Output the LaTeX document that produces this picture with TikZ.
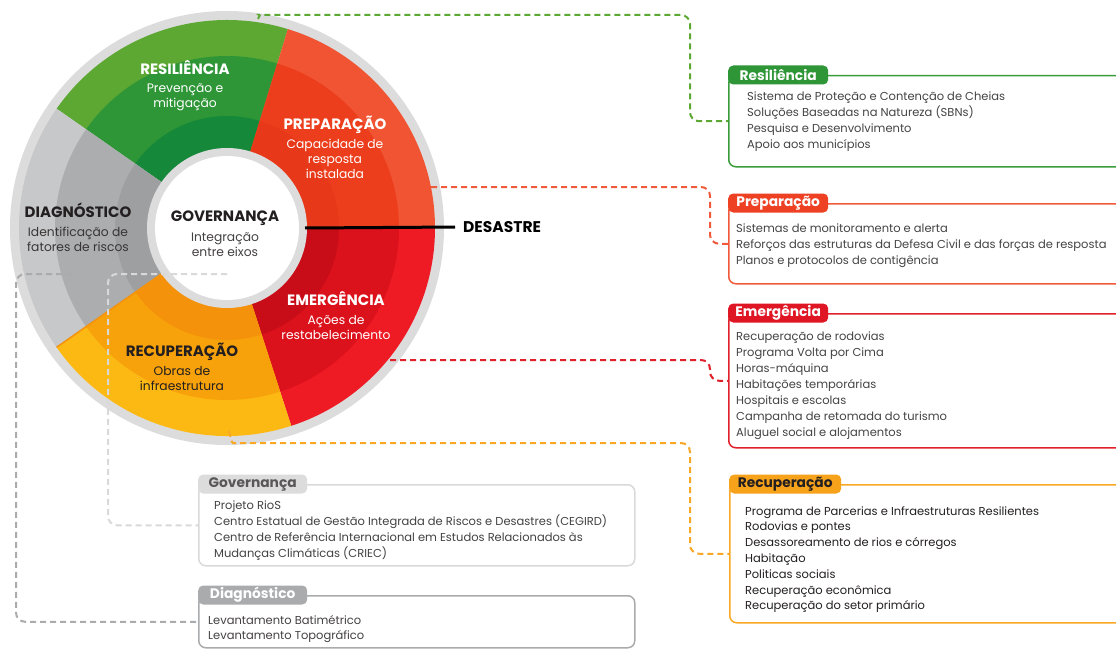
\documentclass[tikz,border=0pt]{standalone}
\usepackage{fontspec}
\setmainfont{Poppins}
\usetikzlibrary{calc}
\definecolor{gOut}{HTML}{5CA832}
\definecolor{gMid}{HTML}{2E9637}
\definecolor{gIn}{HTML}{15883A}
\definecolor{pOut}{HTML}{F05432}
\definecolor{pMid}{HTML}{EC3E1C}
\definecolor{pIn}{HTML}{E8381A}
\definecolor{eOut}{HTML}{EE1B24}
\definecolor{eMid}{HTML}{DB111B}
\definecolor{eIn}{HTML}{C80C18}
\definecolor{rOut}{HTML}{FDB913}
\definecolor{rMid}{HTML}{F8A20B}
\definecolor{rIn}{HTML}{F5920C}
\definecolor{dOut}{HTML}{C7C8C9}
\definecolor{dMid}{HTML}{ABADAF}
\definecolor{dIn}{HTML}{9D9FA1}
\definecolor{ringC}{HTML}{DCDCDC}
\definecolor{resC}{HTML}{3A9C3A}
\definecolor{prepC}{HTML}{F05A3A}
\definecolor{prepT}{HTML}{EE4123}
\definecolor{emeC}{HTML}{E0202A}
\definecolor{emeT}{HTML}{DF1623}
\definecolor{recC}{HTML}{F9A825}
\definecolor{recT}{HTML}{F7A21B}
\definecolor{govC}{HTML}{D9D9D9}
\definecolor{govT}{HTML}{DCDCDC}
\definecolor{diaC}{HTML}{A9ABAD}
\definecolor{itemC}{HTML}{444444}
\definecolor{darkT}{HTML}{231F20}
\begin{document}
\begin{tikzpicture}[x=1pt,y=-1pt,
  wt/.style={font=\bfseries\fontsize{15}{17}\selectfont, anchor=base, inner sep=0pt},
  ws/.style={font=\fontsize{12.3}{15}\selectfont, anchor=base, inner sep=0pt},
  item/.style={font=\fontsize{11.5}{14}\selectfont, anchor=base west, inner sep=0pt, text=itemC},
  boxst/.style={draw, line width=1.5pt, rounded corners=7pt, anchor=north west, inner sep=0pt, minimum width=420pt},
  tab/.style={rounded corners=5pt, anchor=west, inner sep=0pt, minimum height=19pt, font=\bfseries\fontsize{13.8}{15}\selectfont, text=white},
  conn/.style={dashed, dash pattern=on 6pt off 4pt, line width=2pt, rounded corners=9pt}]
\useasboundingbox (0,0) rectangle (1116,650);
\clip (0,0) rectangle (1116,650);
\fill[white] (0,0) rectangle (1116,650);

% ---------- wheel ----------
\begin{scope}[shift={(227,228)}, y=1pt]
  \fill[ringC] (0,0) circle[radius=217];
  \foreach \a/\b/\co/\cm/\ci in {73/145/gOut/gMid/gIn, 0/73/pOut/pMid/pIn, -72/0/eOut/eMid/eIn, 215/288/rOut/rMid/rIn, 145/215/dOut/dMid/dIn}{
    \fill[\co] (0,0) -- (\a:208) arc[start angle=\a, end angle=\b, radius=208] -- cycle;
    \fill[\cm] (0,0) -- (\a:172) arc[start angle=\a, end angle=\b, radius=172] -- cycle;
    \fill[\ci] (0,0) -- (\a:112) arc[start angle=\a, end angle=\b, radius=112] -- cycle;
  }
  \draw[rIn, line width=1.5pt] (215:80) -- (215:208);
  \fill[ringC] (0,0) circle[radius=80];
  \fill[white] (0,0) circle[radius=72];
  \coordinate (dl) at (0:78);
\end{scope}

% wheel labels
\node[wt, text=white] (tRes) at (185,74.5) {RESILIÊNCIA};
\node[ws, text=white] (tRes1) at (185,93) {Prevenção e};
\node[ws, text=white] (tRes2) at (185,108) {mitigação};
\node[wt, text=white] (tPrep) at (335,129.5) {PREPARAÇÃO};
\node[ws, text=white] (tPrep1) at (335,148) {Capacidade de};
\node[ws, text=white] (tPrep2) at (335,163) {resposta};
\node[ws, text=white] (tPrep3) at (335,178) {instalada};
\node[wt, text=darkT] (tDia) at (78,217.5) {DIAGNÓSTICO};
\node[ws, text=darkT!90] (tDia1) at (78,236) {Identificação de};
\node[ws, text=darkT!90] (tDia2) at (78,251) {fatores de riscos};
\node[wt, text=darkT] (tGov) at (225,221.5) {GOVERNANÇA};
\node[ws, text=darkT!85] (tGov1) at (225,241) {Integração};
\node[ws, text=darkT!85] (tGov2) at (225,256) {entre eixos};
\node[wt, text=white] (tEme) at (336,305.5) {EMERGÊNCIA};
\node[ws, text=white] (tEme1) at (336,324) {Ações de};
\node[ws, text=white] (tEme2) at (336,339) {restabelecimento};
\node[wt, text=darkT] (tRec) at (182,356.5) {RECUPERAÇÃO};
\node[ws, text=darkT] (tRec1) at (182,375) {Obras de};
\node[ws, text=darkT] (tRec2) at (182,390) {infraestrutura};

\node[wt, anchor=base west, text=black, font=\bfseries\fontsize{15.5}{17}\selectfont] (des) at (463,232.5) {DESASTRE};
\draw[line width=3pt, black] (dl) -- ([xshift=-8pt]des.west);

% ---------- boxes ----------
\node[boxst, draw=resC, minimum height=91pt] (resbox) at (728,75) {};
\node[boxst, draw=prepC, minimum height=80pt] (prepbox) at (728,203) {};
\node[boxst, draw=emeC, minimum height=134pt] (emebox) at (728,313) {};
\node[boxst, draw=recC, minimum height=138pt] (recbox) at (729,484) {};
\node[boxst, draw=govC, minimum height=81pt, minimum width=436pt] (govbox) at (198,484) {};
\node[boxst, draw=diaC, minimum height=52pt, minimum width=436pt] (diabox) at (198,595) {};

\node[tab, fill=gMid, minimum width=100pt] (resT) at (resbox.north west) {Resiliência};
\node[tab, fill=prepT, minimum width=100pt] (prepT) at (prepbox.north west) {Preparação};
\node[tab, fill=emeT, minimum width=100pt] (emeT) at (emebox.north west) {Emergência};
\node[tab, fill=recT, minimum width=112pt, text=darkT] (recT) at (recbox.north west) {Recuperação};
\node[tab, fill=govT, minimum width=109pt, text=darkT!75] (govT) at (govbox.north west) {Governança};
\node[tab, fill=diaC, minimum width=109pt] (diaT) at (diabox.north west) {Diagnóstico};

% items
\foreach \t [count=\i from 0] in {Sistema de Proteção e Contenção de Cheias, Soluções Baseadas na Natureza (SBNs), Pesquisa e Desenvolvimento, Apoio aos municípios}
  \node[item] (resI\i) at ($(resbox.north west)+(19,{26+16*\i})$) {\t};
\foreach \t [count=\i from 0] in {Sistemas de monitoramento e alerta, Reforços das estruturas da Defesa Civil e das forças de resposta, Planos e protocolos de contigência}
  \node[item] (prepI\i) at ($(prepbox.north west)+(8,{29+16*\i})$) {\t};
\foreach \t [count=\i from 0] in {Recuperação de rodovias, Programa Volta por Cima, Horas-máquina, Habitações temporárias, Hospitais e escolas, Campanha de retomada do turismo, Aluguel social e alojamentos}
  \node[item] (emeI\i) at ($(emebox.north west)+(8,{27.5+16*\i})$) {\t};
\foreach \t [count=\i from 0] in {Programa de Parcerias e Infraestruturas Resilientes, Rodovias e pontes, Desassoreamento de rios e córregos, Habitação, Politicas sociais, Recuperação econômica, Recuperação do setor primário}
  \node[item, text=darkT] (recI\i) at ($(recbox.north west)+(16,{31+15.8*\i})$) {\t};
\foreach \t [count=\i from 0] in {Projeto RioS, Centro Estatual de Gestão Integrada de Riscos e Desastres (CEGIRD), Centro de Referência Internacional em Estudos Relacionados às, Mudanças Climáticas (CRIEC)}
  \node[item, text=darkT!85] (govI\i) at ($(govbox.north west)+(16,{25.5+16*\i})$) {\t};
\foreach \t [count=\i from 0] in {Levantamento Batimétrico, Levantamento Topográfico}
  \node[item, text=darkT!85] (diaI\i) at ($(diabox.north west)+(10,{29+15*\i})$) {\t};

% ---------- connectors ----------
\coordinate (sRes) at (258,19);
\coordinate (sPrep) at (431,187);
\coordinate (sEme) at (390,360);
\coordinate (sRec) at (229,431);
\coordinate (sGov) at (227,274);
\coordinate (sDia) at (72,274);
\draw[conn, gOut] (sRes) .. controls (260,15) .. (268,15) -| ([xshift=-38pt]resbox.west) -- (resbox.west);
\draw[conn, prepC] (sPrep) -| ([xshift=-18pt]prepbox.west) -- (prepbox.west);
\draw[conn, emeC] (sEme) -| ([xshift=-18pt]emebox.west) -- (emebox.west);
\draw[conn, recC] (sRec) .. controls (232,443) .. (242,443) -| ([xshift=-39pt]recbox.west) -- (recbox.west);
\draw[conn, govC] (sGov) -| ([xshift=-90pt]govbox.west) -- (govbox.west);
\draw[conn, diaC] (sDia) -| ([xshift=-182pt]diabox.west) -- (diabox.west);
\end{tikzpicture}
\end{document}
